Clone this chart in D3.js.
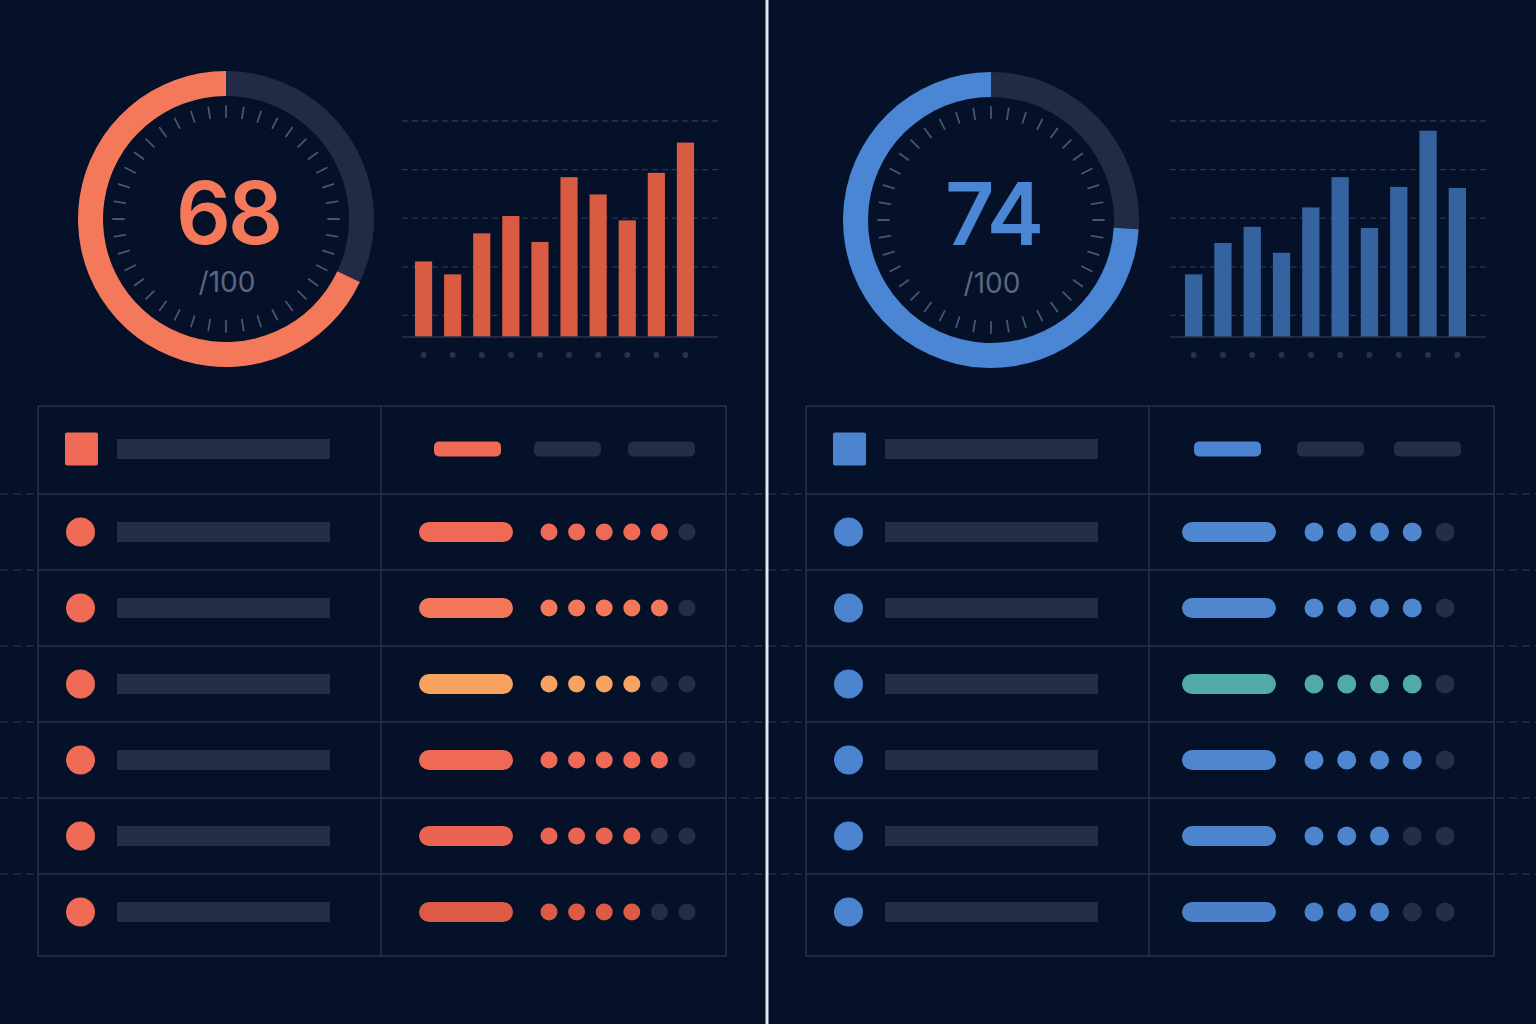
<!DOCTYPE html>
<html>
<head>
<meta charset="utf-8">
<script src="https://cdn.jsdelivr.net/npm/d3@7"></script>
<style>
  html, body { margin: 0; padding: 0; background: #041129; }
  svg { display: block; }
</style>
</head>
<body>
<svg id="chart" width="1536" height="1024"></svg>
<script>
// ---------------- DATA ----------------
const scores = [68, 74];
const scoreMax = 100;
const barCategories = ["1", "2", "3", "4", "5", "6", "7", "8", "9", "10"];
const barsLeft  = [35, 29, 48, 56, 44, 74, 66, 54, 76, 90];
const barsRight = [29, 43.5, 51, 39, 60, 74, 50.5, 69.5, 95.5, 69];
const gridTicks = [10, 32.5, 55, 77.5, 100];
const rowIds = ["r1", "r2", "r3", "r4", "r5", "r6"];
const ratingLeft  = [5, 5, 4, 5, 4, 4];   // filled dots out of 6
const ratingRight = [4, 4, 4, 4, 3, 3];   // filled dots out of 5
const ratingMaxLeft = 6;
const ratingMaxRight = 5;
const rowColorsLeft  = ["#ee6a55", "#f37859", "#f7a25f", "#ee6a55", "#ea6551", "#dd5b44"];
const rowColorsRight = ["#4f86d0", "#4f86d0", "#52aaa7", "#4f86d0", "#4d84ce", "#4a80ca"];

// ---------------- LAYOUT ----------------
const svg = d3.select("#chart");
const W = 1536, H = 1024;
const BG = "#041129";
const MUTED = "#252e48";
const LINE = "#27314b";

svg.append("rect").attr("width", W).attr("height", H).attr("fill", BG);

const panels = [
  { x0: 0,   score: scores[0], bars: barsLeft,  rating: ratingLeft,  ratingMax: ratingMaxLeft,
    rowColors: rowColorsLeft, gauge: "#f4795a", bar: "#d85b42", accent: "#ef6b55",
    gcx: 226, gcy: 219, barRange: [409, 700], dotR: 8.5, width: 766,
    dotRange: [511, 649], pillX: 381, headerPillX: [396, 496, 590] },
  { x0: 768, score: scores[1], bars: barsRight, rating: ratingRight, ratingMax: ratingMaxRight,
    rowColors: rowColorsRight, gauge: "#4a86d4", bar: "#3563a0", accent: "#4c84d0",
    gcx: 223, gcy: 220, barRange: [411, 704], dotR: 9.5, width: 768,
    dotRange: [508, 639], pillX: 376, headerPillX: [388, 491, 588] }
];

panels.forEach(p => {
  const g = svg.append("g").attr("transform", `translate(${p.x0},0)`);

  // ---------- Gauge ----------
  const gg = g.append("g").attr("transform", `translate(${p.gcx},${p.gcy})`);
  const frac = p.score / scoreMax;
  const arc = d3.arc().innerRadius(123).outerRadius(148);
  gg.append("path")
    .attr("d", arc({ startAngle: 0, endAngle: 2 * Math.PI * (1 - frac) }))
    .attr("fill", "#222b45");
  gg.append("path")
    .attr("d", arc({ startAngle: 2 * Math.PI * (1 - frac), endAngle: 2 * Math.PI }))
    .attr("fill", p.gauge);

  const tickAngles = d3.range(40).map(i => i * 2 * Math.PI / 40);
  gg.selectAll("line.tick").data(tickAngles).join("line")
    .attr("x1", a => Math.sin(a) * 102).attr("y1", a => -Math.cos(a) * 102)
    .attr("x2", a => Math.sin(a) * 113).attr("y2", a => -Math.cos(a) * 113)
    .attr("stroke", "#4a5570").attr("stroke-width", 1.8).attr("stroke-linecap", "round");

  gg.append("text")
    .attr("x", 2).attr("y", 25)
    .attr("text-anchor", "middle")
    .attr("font-family", "Inter, 'Noto Sans', sans-serif")
    .attr("font-weight", 600)
    .attr("font-size", 86)
    .attr("letter-spacing", -3)
    .attr("fill", p.gauge)
    .text(p.score);
  gg.append("text")
    .attr("x", 1).attr("y", 73)
    .attr("text-anchor", "middle")
    .attr("font-family", "Inter, 'Noto Sans', sans-serif")
    .attr("font-weight", 400)
    .attr("font-size", 28)
    .attr("fill", "#5b6680")
    .text("/" + scoreMax);

  // ---------- Bar chart ----------
  const x = d3.scaleBand().domain(barCategories).range(p.barRange)
    .paddingInner(0.41).paddingOuter(0.205);
  const y = d3.scaleLinear().domain([0, 100]).range([337, 121]);
  const gx0 = 402, gx1 = 718;

  g.selectAll("line.grid").data(gridTicks).join("line")
    .attr("x1", gx0).attr("x2", gx1)
    .attr("y1", d => y(d)).attr("y2", d => y(d))
    .attr("stroke", "#2a3450").attr("stroke-width", 1.3)
    .attr("stroke-dasharray", "6 4");

  g.selectAll("rect.bar").data(p.bars).join("rect")
    .attr("x", (d, i) => x(barCategories[i]))
    .attr("width", x.bandwidth())
    .attr("y", d => y(d))
    .attr("height", d => y(0) - y(d))
    .attr("fill", p.bar);

  g.append("line")
    .attr("x1", gx0).attr("x2", gx1).attr("y1", y(0)).attr("y2", y(0))
    .attr("stroke", "#2b3550").attr("stroke-width", 1.5);

  g.selectAll("circle.xdot").data(barCategories).join("circle")
    .attr("cx", d => x(d) + x.bandwidth() / 2)
    .attr("cy", 355).attr("r", 3)
    .attr("fill", "#283150");

  // ---------- Table ----------
  const tx = 38, ty = 406, tw = 688, th = 550, colX = 343;
  const rowY = d3.scaleLinear().domain([0, rowIds.length - 1]).range([532, 912]);
  const headerY = 449;

  // full-width dashed separators
  g.selectAll("line.sepd").data(rowIds).join("line")
    .attr("x1", 0).attr("x2", p.width)
    .attr("y1", (d, i) => rowY(i) - 38).attr("y2", (d, i) => rowY(i) - 38)
    .attr("stroke", "#222c45").attr("stroke-width", 1.3)
    .attr("stroke-dasharray", "8 5");
  g.append("rect").attr("x", tx).attr("y", ty).attr("width", tw).attr("height", th)
    .attr("fill", BG).attr("stroke", LINE).attr("stroke-width", 1.5);
  g.selectAll("line.sep").data(rowIds).join("line")
    .attr("x1", tx).attr("x2", tx + tw)
    .attr("y1", (d, i) => rowY(i) - 38).attr("y2", (d, i) => rowY(i) - 38)
    .attr("stroke", LINE).attr("stroke-width", 1.5);
  g.append("line").attr("x1", tx + colX).attr("x2", tx + colX)
    .attr("y1", ty).attr("y2", ty + th)
    .attr("stroke", LINE).attr("stroke-width", 1.5);

  // header row
  g.append("rect").attr("x", tx + 27).attr("y", headerY - 16.5)
    .attr("width", 33).attr("height", 33).attr("rx", 2).attr("fill", p.accent);
  g.append("rect").attr("x", tx + 79).attr("y", headerY - 10)
    .attr("width", 213).attr("height", 20).attr("fill", MUTED);
  const headerPills = [p.accent, MUTED, MUTED];
  g.selectAll("rect.hpill").data(headerPills).join("rect")
    .attr("x", (d, i) => tx + p.headerPillX[i])
    .attr("y", headerY - 7.5).attr("width", 67).attr("height", 15).attr("rx", 5)
    .attr("fill", d => d);

  // data rows
  const dotX = d3.scalePoint().domain(d3.range(p.ratingMax))
    .range([tx + p.dotRange[0], tx + p.dotRange[1]]);
  rowIds.forEach((id, i) => {
    const cy = rowY(i);
    const col = p.rowColors[i];
    g.append("circle").attr("cx", tx + 42.5).attr("cy", cy).attr("r", 14.5).attr("fill", p.accent);
    g.append("rect").attr("x", tx + 79).attr("y", cy - 10)
      .attr("width", 213).attr("height", 20).attr("fill", MUTED);
    g.append("rect").attr("x", tx + p.pillX).attr("y", cy - 10)
      .attr("width", 94).attr("height", 20).attr("rx", 10).attr("fill", col);
    g.selectAll(`circle.dot-${id}`).data(d3.range(p.ratingMax)).join("circle")
      .attr("cx", k => dotX(k)).attr("cy", cy).attr("r", p.dotR)
      .attr("fill", k => k < p.rating[i] ? col : MUTED);
  });
});

// divider
svg.append("line").attr("x1", 767).attr("x2", 767).attr("y1", 0).attr("y2", H)
  .attr("stroke", "#e6eaf0").attr("stroke-width", 3);
</script>
</body>
</html>
